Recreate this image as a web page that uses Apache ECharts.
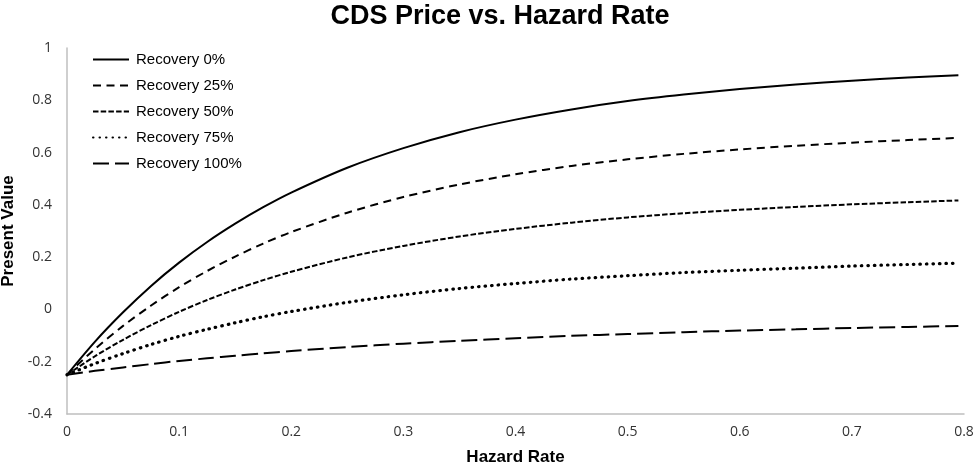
<!DOCTYPE html>
<html>
<head>
<meta charset="utf-8">
<script src="https://cdn.jsdelivr.net/npm/echarts@6/dist/echarts.min.js"></script>
<style>html,body{margin:0;padding:0;background:#fff}#c{width:979px;height:470px}</style>
</head>
<body>
<div id="c"></div>
<script>
var hazard = [0, 0.025, 0.05, 0.075, 0.1, 0.125, 0.15, 0.175, 0.2, 0.25, 0.3, 0.35, 0.4, 0.45, 0.5, 0.55, 0.6, 0.65, 0.7, 0.75, 0.795];
var rec0   = [-0.25, -0.123, -0.011, 0.090, 0.179, 0.258, 0.328, 0.391, 0.447, 0.542, 0.617, 0.678, 0.726, 0.765, 0.797, 0.822, 0.843, 0.860, 0.875, 0.887, 0.896];
var rec25  = [-0.25, -0.151, -0.063, 0.015, 0.085, 0.147, 0.202, 0.252, 0.296, 0.370, 0.430, 0.478, 0.517, 0.549, 0.574, 0.595, 0.612, 0.626, 0.638, 0.648, 0.656];
var rec50  = [-0.25, -0.179, -0.116, -0.060, -0.009, 0.036, 0.076, 0.112, 0.144, 0.199, 0.243, 0.279, 0.308, 0.332, 0.352, 0.368, 0.381, 0.392, 0.402, 0.410, 0.417];
var rec75  = [-0.25, -0.207, -0.169, -0.134, -0.103, -0.076, -0.051, -0.028, -0.008, 0.027, 0.056, 0.080, 0.099, 0.116, 0.129, 0.141, 0.150, 0.158, 0.166, 0.172, 0.177];
var rec100 = [-0.25, -0.235, -0.222, -0.209, -0.197, -0.187, -0.177, -0.168, -0.159, -0.144, -0.131, -0.120, -0.110, -0.101, -0.094, -0.087, -0.081, -0.076, -0.071, -0.067, -0.063];
var seriesNames = ['Recovery 0%', 'Recovery 25%', 'Recovery 50%', 'Recovery 75%', 'Recovery 100%'];
var xTicks = {min: 0, max: 0.8, interval: 0.1};
var yTicks = {min: -0.4, max: 1, interval: 0.2};

var valuesList = [rec0, rec25, rec50, rec75, rec100];
var styles = [
  {type: 'solid', width: 2},
  {type: [8, 5.5], width: 2},
  {type: [5.5, 2.2], width: 2},
  {type: [0.5, 6], width: 3.2, cap: 'round'},
  {type: [16, 6], width: 2}
];
function pairs(vals){ return hazard.map(function(h,i){ return [h, vals[i]]; }); }
var series = valuesList.map(function(vals, i){
  var ls = Object.assign({color: '#000'}, styles[i]);
  return {
    name: seriesNames[i], type: 'line', data: pairs(vals), smooth: 0.3,
    symbol: 'none', showSymbol: false, lineStyle: ls, itemStyle: {color: '#000'},
    animation: false
  };
});
var chart = echarts.init(document.getElementById('c'), null, {renderer: 'canvas'});
var font = '"Liberation Sans", Arial, sans-serif';
var tickFont = '"Open Sans", "Liberation Sans", sans-serif';
chart.setOption({
  animation: false,
  backgroundColor: '#fff',
  title: {
    text: 'CDS Price vs. Hazard Rate', left: 500, top: 3, padding: 0, textAlign: 'center',
    textStyle: {fontFamily: font, fontSize: 27, fontWeight: 'bold', color: '#000'}
  },
  legend: {
    orient: 'vertical', left: 87, top: 47, itemWidth: 36, itemHeight: 14, itemGap: 11,
    data: seriesNames,
    itemStyle: {color: 'rgba(0,0,0,0)', borderWidth: 0, opacity: 0},
    textStyle: {fontFamily: font, fontSize: 15, color: '#000', padding: [0,0,0,2]}
  },
  grid: {left: 67, right: 15, top: 48, bottom: 56, containLabel: false, outerBoundsMode: 'none'},
  xAxis: {
    type: 'value', min: xTicks.min, max: xTicks.max, interval: xTicks.interval,
    name: 'Hazard Rate', nameLocation: 'middle', nameGap: 35,
    nameTextStyle: {fontFamily: font, fontSize: 17, fontWeight: 'bold', color: '#000'},
    axisLine: {show: true, onZero: false, lineStyle: {color: '#bfbfbf', width: 1.5}},
    axisTick: {show: false}, splitLine: {show: false},
    axisLabel: {fontFamily: tickFont, fontSize: 14, color: '#333', margin: 11}
  },
  yAxis: {
    type: 'value', min: yTicks.min, max: yTicks.max, interval: yTicks.interval,
    name: 'Present Value', nameLocation: 'middle', nameGap: 47, nameRotate: 90,
    nameTextStyle: {fontFamily: font, fontSize: 17, fontWeight: 'bold', color: '#000'},
    axisLine: {show: true, lineStyle: {color: '#bfbfbf', width: 1.5}},
    axisTick: {show: false}, splitLine: {show: false},
    axisLabel: {fontFamily: tickFont, fontSize: 14, color: '#333', margin: 15}
  },
  series: series
});
</script>
</body>
</html>
